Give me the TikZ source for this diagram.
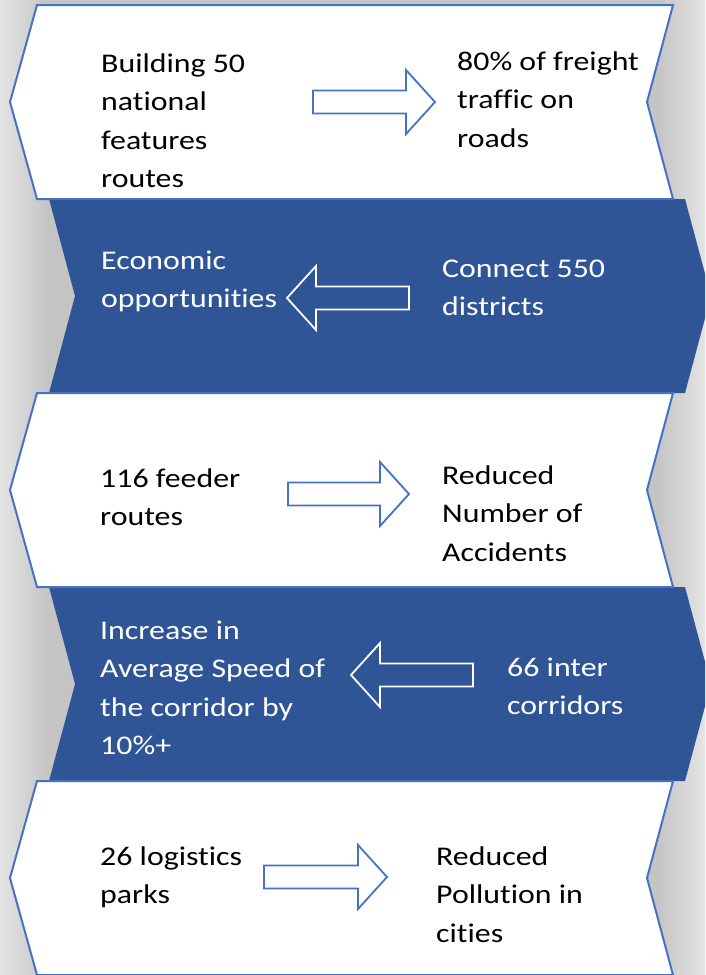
\documentclass[tikz,border=0pt]{standalone}
\usepackage{fontspec}
\setmainfont{Carlito}[FakeStretch=1.18,Ligatures=CommonOff]
\definecolor{bandblue}{HTML}{2F5597}
\definecolor{edgeblue}{HTML}{4472C4}
\definecolor{bglight}{HTML}{E4E4E4}
\definecolor{bgdark}{HTML}{C4C4C4}
\tikzset{
  whiteband/.style={fill=white,draw=edgeblue,line width=2pt,line join=miter},
  blueband/.style={fill=bandblue},
  darktext/.style={font=\fontsize{27}{38.5}\selectfont,align=left,inner sep=0pt,anchor=base west,text=black},
  lighttext/.style={darktext,text=white},
  darkarrow/.style={fill=white,draw=edgeblue,line width=1.8pt,line join=miter},
  lightarrow/.style={fill=bandblue,draw=white,line width=1.8pt,line join=miter}
}
\begin{document}
\begin{tikzpicture}[x=1pt,y=-1pt]
  \useasboundingbox (0,0) rectangle (705,975);
  \clip (0,0) rectangle (705,975);
  % background
  \fill[bgdark] (0,0) rectangle (705,975);
  \shade[left color=bglight,right color=bgdark] (0,0) rectangle (48,975);
  \shade[left color=bgdark,right color=bglight] (657,0) rectangle (705,975);
  % blue bands (pointing right)
  \foreach \t in {199,587}
    \fill[blueband] (49,\t) -- (685,\t) -- (711,{\t+97}) -- (685,{\t+194})
      -- (49,{\t+194}) -- (75,{\t+97}) -- cycle;
  % white bands (pointing left)
  \foreach \t in {5,393,781}
    \draw[whiteband] (37,\t) -- (673,\t) -- (647,{\t+97}) -- (673,{\t+194})
      -- (37,{\t+194}) -- (10,{\t+97}) -- cycle;
  % arrows to the right
  \foreach \xa/\xb/\yc in {313/435/102,288/409/494,264/387/877}
    \draw[darkarrow] (\xa,{\yc-11.5}) -- ({\xb-29},{\yc-11.5}) -- ({\xb-29},{\yc-32})
      -- (\xb,\yc) -- ({\xb-29},{\yc+32}) -- ({\xb-29},{\yc+11.5}) -- (\xa,{\yc+11.5}) -- cycle;
  % arrows to the left
  \foreach \xa/\xb/\yc in {409/287/298,473/351/675}
    \draw[lightarrow] (\xa,{\yc-11.5}) -- ({\xb+29},{\yc-11.5}) -- ({\xb+29},{\yc-32})
      -- (\xb,\yc) -- ({\xb+29},{\yc+32}) -- ({\xb+29},{\yc+11.5}) -- (\xa,{\yc+11.5}) -- cycle;
  % texts (placed at the baseline of their last line)
  \node[darktext] (national) at (101,187.5) {Building 50\\national\\features\\routes};
  \node[darktext] (freight) at (457,147) {80\% of freight\\traffic on\\roads};
  \node[lighttext] (economy) at (101,307.5) {Economic\\opportunities};
  \node[lighttext] (districts) at (442,315.5) {Connect 550\\districts};
  \node[darktext] (feeder) at (100,525.5) {116 feeder\\routes};
  \node[darktext] (accidents) at (442,561) {Reduced\\Number of\\Accidents};
  \node[lighttext] (speed) at (100,754.5) {Increase in\\Average Speed of\\the corridor by\\10\%+};
  \node[lighttext] (inter) at (507,714.5) {66 inter\\corridors};
  \node[darktext] (logistics) at (100,903.5) {26 logistics\\parks};
  \node[darktext] (pollution) at (436,942) {Reduced\\Pollution in\\cities};
\end{tikzpicture}
\end{document}
